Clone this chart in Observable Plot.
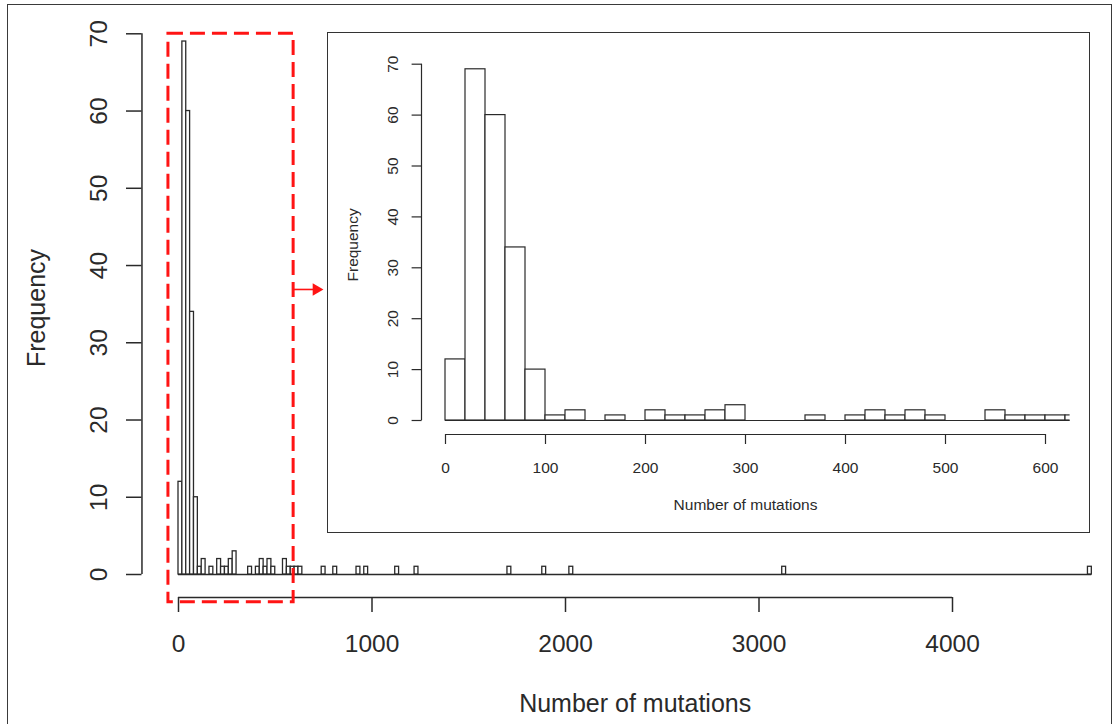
<!DOCTYPE html>
<html><head><meta charset="utf-8">
<script src="https://cdn.jsdelivr.net/npm/d3@7"></script>
<script src="https://cdn.jsdelivr.net/npm/@observablehq/plot@0.6"></script>
<style>
html,body{margin:0;padding:0;background:#fff;}
#wrap{position:relative;width:1113px;height:724px;overflow:hidden;font-family:"Liberation Sans",Arial,Helvetica,sans-serif;}
#outer{position:absolute;left:7px;top:4px;width:1105px;height:760px;border:1.6px solid #3a3a3a;box-sizing:border-box;}
#main{position:absolute;left:0;top:0;}
#inset{position:absolute;left:328px;top:32px;}
#insetFrame{position:absolute;left:327px;top:32px;width:763px;height:501px;border:1.5px solid #333;box-sizing:border-box;pointer-events:none;}
</style></head><body>
<div id="wrap"><div id="outer"></div><div id="main"></div><div id="inset"></div><div id="insetFrame"></div></div>
<script>
// ---- data (histogram, bins of width 20) ----
const binWidth = 20;
const binStart = [0,20,40,60,80,100,120,160,200,220,240,260,280,360,400,420,440,460,480,540,560,580,600,620,740,800,920,960,1120,1220,1700,1880,2020,3120,4700];
const binCount = [12,69,60,34,10,1,2,1,2,1,1,2,3,1,1,2,1,2,1,2,1,1,1,1,1,1,1,1,1,1,1,1,1,1,1];
const binMin = 0, binMax = 4720;
const mainXTicks = [0,1000,2000,3000,4000];
const mainYTicks = [0,10,20,30,40,50,60,70];
const insetXTicks = [0,100,200,300,400,500,600];
const insetYTicks = [0,10,20,30,40,50,60,70];
const insetXLim = [0,600];
const yLim = [0,69];
const xLabel = "Number of mutations";
const yLabel = "Frequency";
// zoom highlight box and arrow (data units of the main chart)
const zoomBoxX = [-52, 595];
const zoomBoxY = [-3.6, 70];
const arrowY = 36.9;
const arrowX = [595, 712];

const bins = binStart.map((s, i) => ({x1: s, x2: s + binWidth, count: binCount[i]}));
// R-style 4% extension of plot region
const ext = (a, b) => [a - 0.04 * (b - a), b + 0.04 * (b - a)];
const mainUsrX = ext(binMin, binMax);
const usrY = ext(yLim[0], yLim[1]);
const insetUsrX = ext(insetXLim[0], insetXLim[1]);
const midY = (usrY[0] + usrY[1]) / 2;

const font = "'Liberation Sans', Arial, Helvetica, sans-serif";
const ink = "#2a2a2a";
const fmt = d => String(d);

const main = Plot.plot({
  width: 1113, height: 724,
  marginLeft: 141.5, marginRight: -15, marginTop: 19.7, marginBottom: 127,
  style: {fontFamily: font, fontSize: "24px", color: ink, background: "transparent", overflow: "visible"},
  x: {domain: [0, 4000], range: [178, 952]},
  y: {domain: [0, 70], range: [574, 33.3]},
  marks: [
    Plot.ruleY([0], {x1: binMin, x2: binMax, stroke: ink, strokeWidth: 1.6}),
    Plot.rect(bins, {x1: "x1", x2: "x2", y1: 0, y2: "count", fill: "white", stroke: ink, strokeWidth: 1.3}),
    Plot.ruleY([0], {x1: mainXTicks[0], x2: mainXTicks[mainXTicks.length - 1], dy: 23, stroke: ink, strokeWidth: 1.5}),
    Plot.ruleX([mainUsrX[0]], {y1: mainYTicks[0], y2: mainYTicks[mainYTicks.length - 1], stroke: ink, strokeWidth: 1.5}),
    Plot.axisX({ticks: mainXTicks, tickFormat: fmt, tickSize: 15, tickPadding: 22, fontSize: 24.5, label: null, strokeWidth: 1.5}),
    Plot.axisY({ticks: mainYTicks, tickFormat: fmt, tickSize: 15.5, tickPadding: 20, tickRotate: -90, fontSize: 24.5, label: null, strokeWidth: 1.5}),
    Plot.text([yLabel], {text: d => d, x: mainUsrX[0], y: midY, dx: -104.5, rotate: -90, textAnchor: "middle", lineAnchor: "middle", fontSize: 25}),
    Plot.text([xLabel], {text: d => d, x: (mainUsrX[0] + mainUsrX[1]) / 2, y: 0, dy: 129, textAnchor: "middle", lineAnchor: "middle", fontSize: 25}),
    Plot.rect([0], {x1: zoomBoxX[0], x2: zoomBoxX[1], y1: zoomBoxY[0], y2: zoomBoxY[1], fill: "none", stroke: "#ff1414", strokeWidth: 3, strokeDasharray: "15,7"}),
    Plot.ruleY([arrowY], {x1: arrowX[0], x2: arrowX[1], stroke: "#ff1414", strokeWidth: 1.6}),
    Plot.dot([arrowY], {x: arrowX[1], y: d => d, symbol: "triangle", rotate: 90, r: 4.6, fill: "#ff1414", stroke: "none"})
  ]
});
document.getElementById("main").appendChild(main);

const inset = Plot.plot({
  width: 761, height: 500,
  marginLeft: 93.6, marginRight: 19.4, marginTop: 22.7, marginBottom: 98,
  style: {fontFamily: font, fontSize: "15.5px", color: ink, background: "white"},
  x: {domain: insetXLim, range: [117, 717]},
  y: {domain: [0, 70], range: [388, 31.7]},
  marks: [
    Plot.ruleY([0], {x1: binMin, x2: binMax, stroke: ink, strokeWidth: 1.2, clip: true}),
    Plot.rect(bins, {x1: "x1", x2: "x2", y1: 0, y2: "count", fill: "white", stroke: ink, strokeWidth: 1.2, clip: true}),
    Plot.ruleY([0], {x1: insetXTicks[0], x2: insetXTicks[insetXTicks.length - 1], dy: 14, stroke: ink, strokeWidth: 1.2}),
    Plot.ruleX([insetUsrX[0]], {y1: insetYTicks[0], y2: insetYTicks[insetYTicks.length - 1], stroke: ink, strokeWidth: 1.2}),
    Plot.axisX({ticks: insetXTicks, tickFormat: fmt, tickSize: 10, tickPadding: 17, fontSize: 15.5, label: null, strokeWidth: 1.2}),
    Plot.axisY({ticks: insetYTicks, tickFormat: fmt, tickSize: 10, tickPadding: 14.5, tickRotate: -90, fontSize: 15.5, label: null, strokeWidth: 1.2}),
    Plot.text([yLabel], {text: d => d, x: insetUsrX[0], y: midY, dx: -68.6, rotate: -90, textAnchor: "middle", lineAnchor: "middle", fontSize: 15.5}),
    Plot.text([xLabel], {text: d => d, x: (insetUsrX[0] + insetUsrX[1]) / 2, y: 0, dy: 85, textAnchor: "middle", lineAnchor: "middle", fontSize: 15.5})
  ]
});
document.getElementById("inset").appendChild(inset);
</script>
</body></html>
